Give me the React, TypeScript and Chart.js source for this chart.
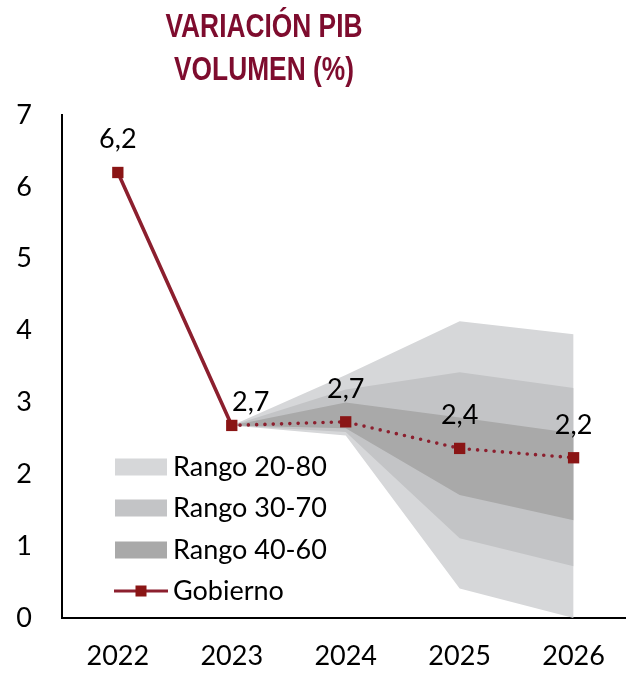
import { useEffect, useRef } from 'react';
import { Chart, registerables } from 'chart.js';

Chart.register(...registerables);

// ---- data ----
const YEARS = ['2022', '2023', '2024', '2025', '2026'];
const GOBIERNO = [6.2, 2.68, 2.73, 2.36, 2.23];
const P80 = [null, 2.68, 3.38, 4.13, 3.95];
const P20 = [null, 2.68, 2.54, 0.41, 0.0];
const P70 = [null, 2.68, 3.18, 3.42, 3.2];
const P30 = [null, 2.68, 2.59, 1.11, 0.72];
const P60 = [null, 2.68, 3.0, 2.79, 2.57];
const P40 = [null, 2.68, 2.64, 1.71, 1.36];
const Y_TICKS = [0, 1, 2, 3, 4, 5, 6, 7];
const TITLE_LINES = ['VARIACIÓN PIB', 'VOLUMEN (%)'];
const LEGEND_LABELS = ['Rango 20-80', 'Rango 30-70', 'Rango 40-60', 'Gobierno'];

// ---- styles ----
const C_LIGHT = '#d6d7d9';
const C_MED = '#c3c4c6';
const C_DARK = '#a9a9a9';
const C_LINE = '#8c1f2e';
const C_MARK = '#8a1515';
const C_TITLE = '#7e0c2e';
const FONT = 'Lato, "Open Sans", sans-serif';

const pts = (arr: (number | null)[]) => YEARS.map((y, i) => ({ x: Number(y), y: arr[i] }));
const fmt = (v: number) => v.toFixed(1).replace('.', ',');

const band = (data: (number | null)[], color: string, fill: any) => ({
  data: pts(data),
  borderWidth: 0,
  pointRadius: 0,
  backgroundColor: color,
  borderColor: color,
  fill,
  tension: 0,
});

const overlayPlugin = {
  id: 'overlay',
  afterLayout(chart: any) {
    // let the plot area run to the right edge of the canvas
    const a = chart.chartArea;
    a.right = chart.width;
    a.width = a.right - a.left;
    const x = chart.scales.x;
    x.right = chart.width;
    x.width = x.right - x.left;
    x.configure();
  },
  afterDraw(chart: any) {
    const ctx = chart.ctx;
    ctx.save();
    // title (condensed bold sans)
    ctx.fillStyle = C_TITLE;
    ctx.font = 'bold 33px "Liberation Sans Narrow", "Arial Narrow", "Liberation Sans", sans-serif';
    ctx.textAlign = 'center';
    ctx.textBaseline = 'alphabetic';
    const w0 = ctx.measureText(TITLE_LINES[0]).width;
    const sx = Math.min(1, 197 / w0);
    ctx.save();
    ctx.translate(264, 0);
    ctx.scale(sx, 1);
    ctx.fillText(TITLE_LINES[0], 0, 37);
    ctx.fillText(TITLE_LINES[1], 0, 80);
    ctx.restore();

    // data labels
    const meta = chart.getDatasetMeta(0);
    ctx.fillStyle = '#000';
    ctx.font = '27px ' + FONT;
    meta.data.forEach((el: any, i: number) => {
      const dx = i === 1 ? 19 : 0;
      const dy = i === 1 ? -14 : -24;
      ctx.fillText(fmt(GOBIERNO[i]), el.x + dx, el.y + dy);
    });

    // legend
    const colors = [C_LIGHT, C_MED, C_DARK];
    const rows = [467, 508, 550, 591];
    ctx.textAlign = 'left';
    LEGEND_LABELS.forEach((lab, i) => {
      const cy = rows[i];
      if (i < 3) {
        ctx.fillStyle = colors[i];
        ctx.fillRect(115, cy - 8.5, 52, 17);
      } else {
        ctx.strokeStyle = C_LINE;
        ctx.lineWidth = 3;
        ctx.beginPath();
        ctx.moveTo(114, cy);
        ctx.lineTo(168, cy);
        ctx.stroke();
        ctx.fillStyle = C_MARK;
        ctx.fillRect(135.5, cy - 5.5, 11, 11);
      }
      ctx.fillStyle = '#000';
      ctx.fillText(lab, 173, cy + 9);
    });
    ctx.restore();
  },
};

export default function App() {
  const ref = useRef<HTMLCanvasElement>(null);
  useEffect(() => {
    document.body.style.margin = '0';
    const chart = new Chart(ref.current as HTMLCanvasElement, {
      type: 'line',
      data: {
        datasets: [
          {
            data: pts(GOBIERNO),
            borderColor: C_LINE,
            borderWidth: 3.6,
            borderCapStyle: 'round',
            pointStyle: 'rect',
            pointRadius: 8,
            pointBackgroundColor: C_MARK,
            pointBorderColor: C_MARK,
            pointBorderWidth: 0,
            fill: false,
            tension: 0,
            segment: {
              borderDash: (c: any) => (c.p0DataIndex >= 1 ? [0, 8.3] : undefined),
            },
          } as any,
          band(P60, C_DARK, '+1'),
          band(P40, C_DARK, false),
          band(P70, C_MED, '+1'),
          band(P30, C_MED, false),
          band(P80, C_LIGHT, '+1'),
          band(P20, C_LIGHT, false),
        ],
      },
      options: {
        responsive: false,
        animation: false,
        layout: { padding: { top: 115, left: 0, right: 0, bottom: 0 } },
        plugins: {
          legend: { display: false },
          title: { display: false },
          tooltip: { enabled: false },
        },
        scales: {
          x: {
            type: 'linear',
            min: 2021.51,
            max: 2026.46,
            grid: { display: false, drawTicks: false },
            border: { display: true, color: '#000', width: 2 },
            afterBuildTicks: (s: any) => {
              s.ticks = YEARS.map((y) => ({ value: Number(y) }));
            },
            afterFit: (s: any) => {
              s.height = 57;
            },
            ticks: {
              padding: 22,
              color: '#000',
              font: { family: FONT, size: 27 },
              maxRotation: 0,
              autoSkip: false,
              callback: (v: any) => String(v),
            },
          },
          y: {
            min: 0,
            max: 7,
            grid: { display: false, drawTicks: false },
            border: { display: true, color: '#000', width: 2 },
            afterBuildTicks: (s: any) => {
              s.ticks = Y_TICKS.map((v) => ({ value: v }));
            },
            afterFit: (s: any) => {
              s.width = 62;
            },
            ticks: {
              padding: 30,
              color: '#000',
              font: { family: FONT, size: 27 },
              callback: (v: any) => String(v),
            },
          },
        },
      },
      plugins: [overlayPlugin],
    });
    return () => chart.destroy();
  }, []);
  return <canvas ref={ref} width={626} height={675} style={{ display: 'block' }} />;
}
